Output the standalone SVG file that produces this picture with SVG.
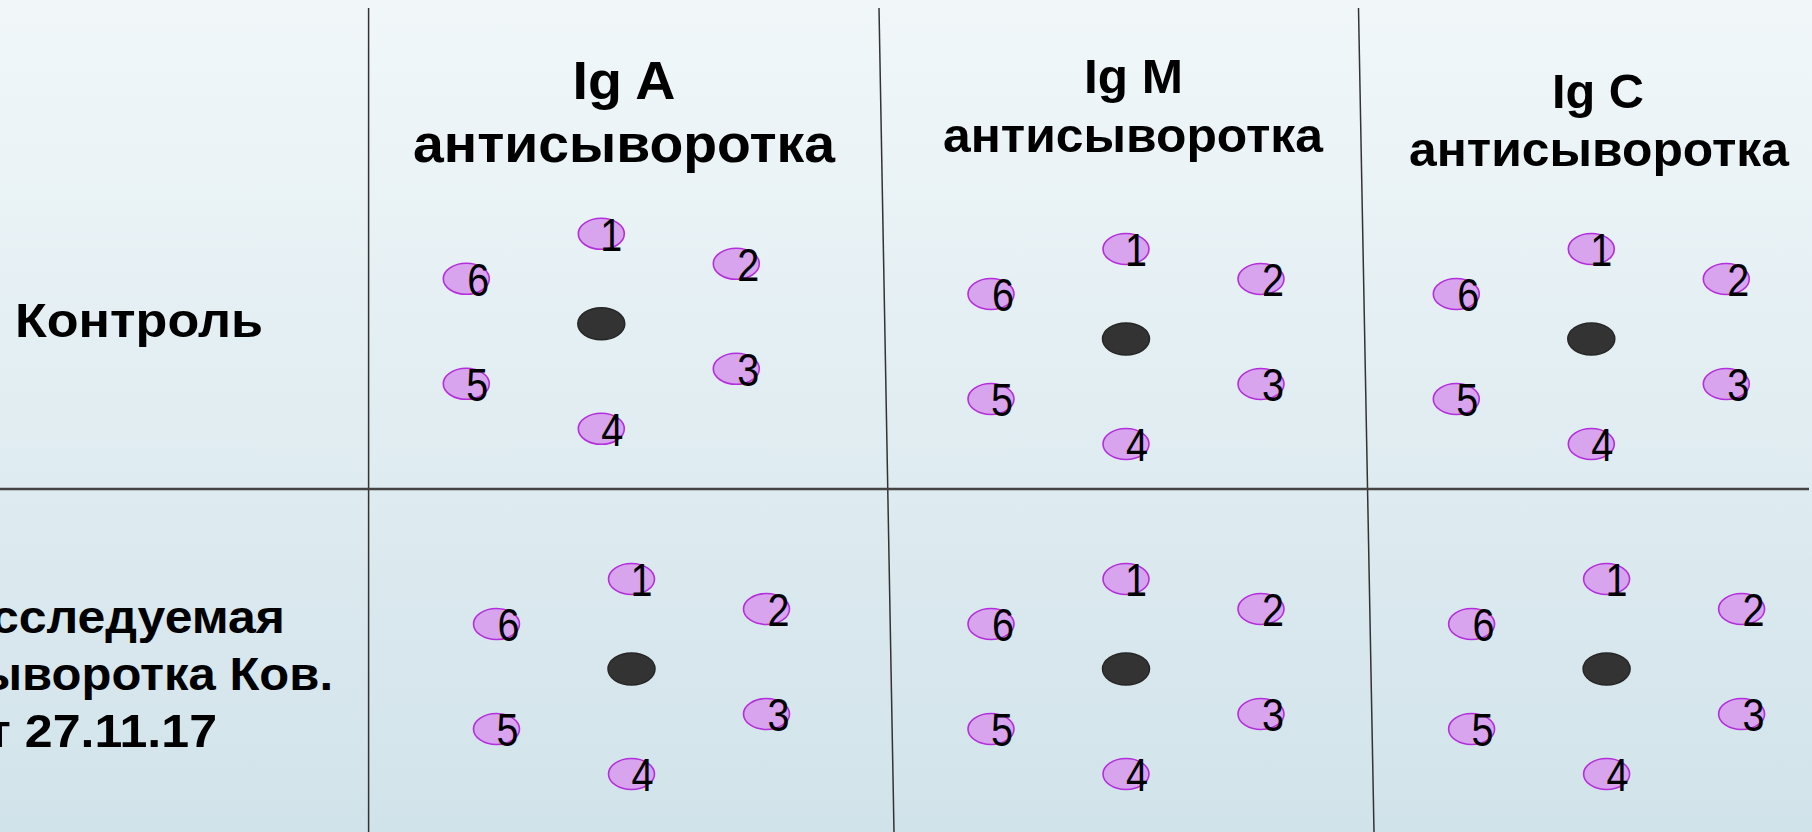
<svg xmlns="http://www.w3.org/2000/svg" width="1812" height="832" viewBox="0 0 1812 832">
  <defs>
    <linearGradient id="bg" x1="0" y1="0" x2="0" y2="1">
      <stop offset="0" stop-color="#f1f7f9"/>
      <stop offset="1" stop-color="#d1e3ea"/>
    </linearGradient>
    <style>
      .lbl { font-family: "Liberation Sans", Arial, sans-serif; font-weight: bold; fill: #000; }
      .well { fill: #d8a4ee; stroke: #b42fdc; stroke-width: 1.6; }
      .center { fill: #333333; stroke: #262626; stroke-width: 1.5; }
      .num { font-family: "Liberation Sans", Arial, sans-serif; font-size: 47px; fill: #000; text-anchor: middle; }
      .grid { stroke: #333; stroke-width: 1.5; fill: none; }
      .hgrid { stroke: #444; stroke-width: 2.5; fill: none; }
    </style>
    <g id="pattern">
      <ellipse class="center" cx="0" cy="0" rx="23.5" ry="16"/>
      <ellipse class="well" cx="0" cy="-90" rx="23" ry="15.5"/>
      <ellipse class="well" cx="135" cy="-60" rx="23" ry="15.5"/>
      <ellipse class="well" cx="135" cy="45" rx="23" ry="15.5"/>
      <ellipse class="well" cx="0" cy="105" rx="23" ry="15.5"/>
      <ellipse class="well" cx="-135" cy="60" rx="23" ry="15.5"/>
      <ellipse class="well" cx="-135" cy="-45" rx="23" ry="15.5"/>
      <text class="num" x="10" y="-73" textLength="22" lengthAdjust="spacingAndGlyphs">1</text>
      <text class="num" x="147" y="-43" textLength="22" lengthAdjust="spacingAndGlyphs">2</text>
      <text class="num" x="147" y="62" textLength="22" lengthAdjust="spacingAndGlyphs">3</text>
      <text class="num" x="11" y="122" textLength="22" lengthAdjust="spacingAndGlyphs">4</text>
      <text class="num" x="-124" y="77" textLength="22" lengthAdjust="spacingAndGlyphs">5</text>
      <text class="num" x="-123" y="-28" textLength="22" lengthAdjust="spacingAndGlyphs">6</text>
    </g>
  </defs>

  <rect x="0" y="0" width="1812" height="832" fill="url(#bg)"/>

  <g id="connectors">
    <line class="grid" x1="368.6" y1="8" x2="368.6" y2="832"/>
    <line class="grid" x1="879" y1="8" x2="894" y2="832"/>
    <line class="grid" x1="1358.5" y1="8" x2="1374" y2="832"/>
    <line class="hgrid" x1="0" y1="489" x2="1809" y2="489"/>
  </g>

  <g id="row-control-label">
    <text class="lbl" x="15" y="337" font-size="48" textLength="248" lengthAdjust="spacingAndGlyphs">Контроль</text>
  </g>

  <g id="row-sample-label">
    <text class="lbl" x="-45" y="633" font-size="46" textLength="330" lengthAdjust="spacingAndGlyphs">Исследуемая</text>
    <text class="lbl" x="-47" y="690" font-size="46" textLength="380" lengthAdjust="spacingAndGlyphs">сыворотка Ков.</text>
    <text class="lbl" x="-43" y="747" font-size="46" textLength="260" lengthAdjust="spacingAndGlyphs">от 27.11.17</text>
  </g>

  <g id="header-IgA">
    <text class="lbl" x="624" y="99" font-size="54" text-anchor="middle" textLength="103" lengthAdjust="spacingAndGlyphs">Ig A</text>
    <text class="lbl" x="624" y="162" font-size="54" text-anchor="middle" textLength="422" lengthAdjust="spacingAndGlyphs">антисыворотка</text>
  </g>
  <g id="header-IgM">
    <text class="lbl" x="1133.5" y="93" font-size="48" text-anchor="middle" textLength="99" lengthAdjust="spacingAndGlyphs">Ig M</text>
    <text class="lbl" x="1133" y="152" font-size="48" text-anchor="middle" textLength="380" lengthAdjust="spacingAndGlyphs">антисыворотка</text>
  </g>
  <g id="header-IgC">
    <text class="lbl" x="1598" y="108" font-size="48" text-anchor="middle" textLength="92" lengthAdjust="spacingAndGlyphs">Ig C</text>
    <text class="lbl" x="1599" y="166" font-size="48" text-anchor="middle" textLength="380" lengthAdjust="spacingAndGlyphs">антисыворотка</text>
  </g>

  <g id="cell-control-IgA"><use href="#pattern" x="601.3" y="323.8"/></g>
  <g id="cell-control-IgM"><use href="#pattern" x="1126" y="339"/></g>
  <g id="cell-control-IgC"><use href="#pattern" x="1591.3" y="339"/></g>
  <g id="cell-sample-IgA"><use href="#pattern" x="631.5" y="669"/></g>
  <g id="cell-sample-IgM"><use href="#pattern" x="1126" y="669"/></g>
  <g id="cell-sample-IgC"><use href="#pattern" x="1606.6" y="669"/></g>
</svg>
